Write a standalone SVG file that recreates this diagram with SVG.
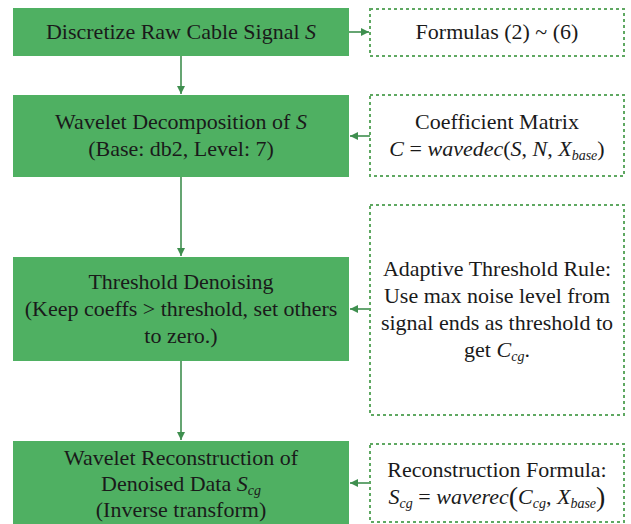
<svg xmlns="http://www.w3.org/2000/svg" width="631" height="524" viewBox="0 0 631 524">
<defs>
<marker id="ah" markerWidth="10" markerHeight="10" refX="9" refY="5" orient="auto" markerUnits="userSpaceOnUse">
<path d="M1,1 L9,5 L1,9 Z" fill="#3f8f4f"/>
</marker>
<style>
.box{fill:#4fb062;stroke:none}
.dbox{fill:#ffffff;stroke:#5fa862;stroke-width:2;stroke-dasharray:3 3}
text{font-size:22px;fill:#1a1a1a;text-anchor:middle}
.i{font-style:italic}
.sub{font-size:14px;font-style:italic}
.c{stroke:#3f8f4f;stroke-width:1.6;fill:none;marker-end:url(#ah)}
</style>
</defs>
<rect width="631" height="524" fill="#ffffff"/>
<g id="connectors">
<line class="c" x1="349" y1="32" x2="369" y2="32"/>
<line class="c" x1="181" y1="56" x2="181" y2="94"/>
<line class="c" x1="370" y1="136" x2="350" y2="136"/>
<line class="c" x1="181" y1="177" x2="181" y2="256"/>
<line class="c" x1="370" y1="309" x2="350" y2="309"/>
<line class="c" x1="181" y1="361" x2="181" y2="440"/>
<line class="c" x1="370" y1="483" x2="350" y2="483"/>
</g>
<g font-family="Liberation Serif, Times New Roman, DejaVu Serif, serif">
<g id="n1">
<rect class="box" x="13" y="8" width="336" height="48"/>
<text x="181" y="39">Discretize Raw Cable Signal <tspan class="i">S</tspan></text>
</g>
<g id="f1">
<rect class="dbox" x="370" y="9" width="254" height="47"/>
<text x="497" y="39">Formulas (2) ~ (6)</text>
</g>
<g id="n2">
<rect class="box" x="13" y="95" width="336" height="82"/>
<text x="181" y="129">Wavelet Decomposition of <tspan class="i">S</tspan></text>
<text x="181" y="156">(Base: db2, Level: 7)</text>
</g>
<g id="f2">
<rect class="dbox" x="370" y="95" width="254" height="81"/>
<text x="497" y="129">Coefficient Matrix</text>
<text x="497" y="156"><tspan class="i">C</tspan> = <tspan class="i">wavedec</tspan>(<tspan class="i">S</tspan>, <tspan class="i">N</tspan>, <tspan class="i">X</tspan><tspan class="sub" dy="4">base</tspan><tspan dy="-4">)</tspan></text>
</g>
<g id="n3">
<rect class="box" x="13" y="257" width="336" height="104"/>
<text x="181" y="289">Threshold Denoising</text>
<text x="181" y="316">(Keep coeffs &gt; threshold, set others</text>
<text x="181" y="343">to zero.)</text>
</g>
<g id="f3">
<rect class="dbox" x="370" y="205" width="254" height="210"/>
<text x="497" y="276">Adaptive Threshold Rule:</text>
<text x="497" y="303">Use max noise level from</text>
<text x="497" y="330">signal ends as threshold to</text>
<text x="497" y="357">get <tspan class="i">C</tspan><tspan class="sub" dy="4">cg</tspan><tspan dy="-4">.</tspan></text>
</g>
<g id="n4">
<rect class="box" x="13" y="441" width="336" height="90"/>
<text x="181" y="465">Wavelet Reconstruction of</text>
<text x="181" y="491">Denoised Data <tspan class="i">S</tspan><tspan class="sub" dy="4">cg</tspan></text>
<text x="181" y="517">(Inverse transform)</text>
</g>
<g id="f4">
<rect class="dbox" x="370" y="444" width="254" height="78"/>
<text x="497" y="477">Reconstruction Formula:</text>
<text x="497" y="504"><tspan class="i">S</tspan><tspan class="sub" dy="4">cg</tspan><tspan dy="-4"> = </tspan><tspan class="i">waverec</tspan><tspan font-size="28" dy="2">(</tspan><tspan class="i" dy="-2">C</tspan><tspan class="sub" dy="4">cg</tspan><tspan dy="-4">, </tspan><tspan class="i">X</tspan><tspan class="sub" dy="4">base</tspan><tspan font-size="28" dy="-2">)</tspan></text>
</g>
</g>
</svg>
